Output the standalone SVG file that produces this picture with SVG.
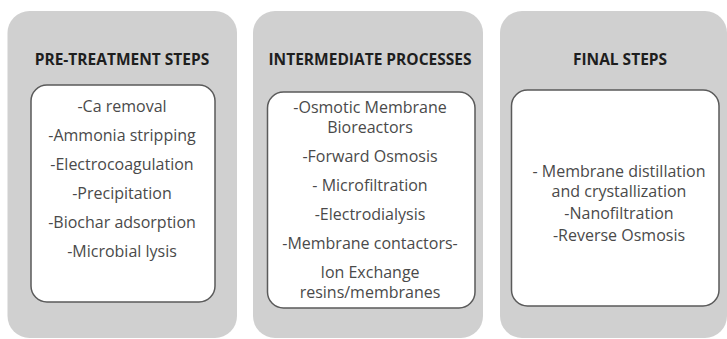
<svg xmlns="http://www.w3.org/2000/svg" width="727" height="339" viewBox="0 0 727 339">
<style>
.panel{fill:#d0d0d0;}
.inner{fill:#ffffff;stroke:#5a5a5a;stroke-width:1.5;}
.title{font-family:"Open Sans","DejaVu Sans",sans-serif;font-weight:bold;font-size:15.5px;fill:#1e1e1e;text-anchor:middle;}
.item{font-family:"Open Sans","DejaVu Sans",sans-serif;font-size:16px;fill:#4a4a4a;text-anchor:middle;}
</style>
<rect width="727" height="339" fill="#ffffff"/>
<g id="pretreatment">
<rect class="panel" x="7.5" y="11" width="229.5" height="327" rx="22"/>
<text class="title" x="122" y="65">PRE-TREATMENT STEPS</text>
<rect class="inner" x="31" y="85" width="184" height="217" rx="16"/>
<text class="item" x="122" y="112">-Ca removal</text>
<text class="item" x="122" y="141">-Ammonia stripping</text>
<text class="item" x="122" y="170">-Electrocoagulation</text>
<text class="item" x="122" y="199">-Precipitation</text>
<text class="item" x="122" y="228">-Biochar adsorption</text>
<text class="item" x="122" y="257">-Microbial lysis</text>
</g>
<g id="intermediate">
<rect class="panel" x="253" y="11" width="230" height="327" rx="22"/>
<text class="title" x="370" y="65">INTERMEDIATE PROCESSES</text>
<rect class="inner" x="267.5" y="92" width="207.5" height="216" rx="16"/>
<text class="item" x="370" y="113">-Osmotic Membrane</text>
<text class="item" x="370" y="133">Bioreactors</text>
<text class="item" x="370" y="162">-Forward Osmosis</text>
<text class="item" x="370" y="191">- Microfiltration</text>
<text class="item" x="370" y="220">-Electrodialysis</text>
<text class="item" x="370" y="249">-Membrane contactors-</text>
<text class="item" x="370" y="278">Ion Exchange</text>
<text class="item" x="370" y="298">resins/membranes</text>
</g>
<g id="final">
<rect class="panel" x="500" y="11" width="227" height="327" rx="22"/>
<text class="title" x="620" y="65">FINAL STEPS</text>
<rect class="inner" x="511.5" y="90" width="207.5" height="216" rx="16"/>
<text class="item" x="619" y="177">- Membrane distillation</text>
<text class="item" x="619" y="197">and crystallization</text>
<text class="item" x="619" y="219">-Nanofiltration</text>
<text class="item" x="619" y="241">-Reverse Osmosis</text>
</g>
<g id="connectors"></g>
</svg>
